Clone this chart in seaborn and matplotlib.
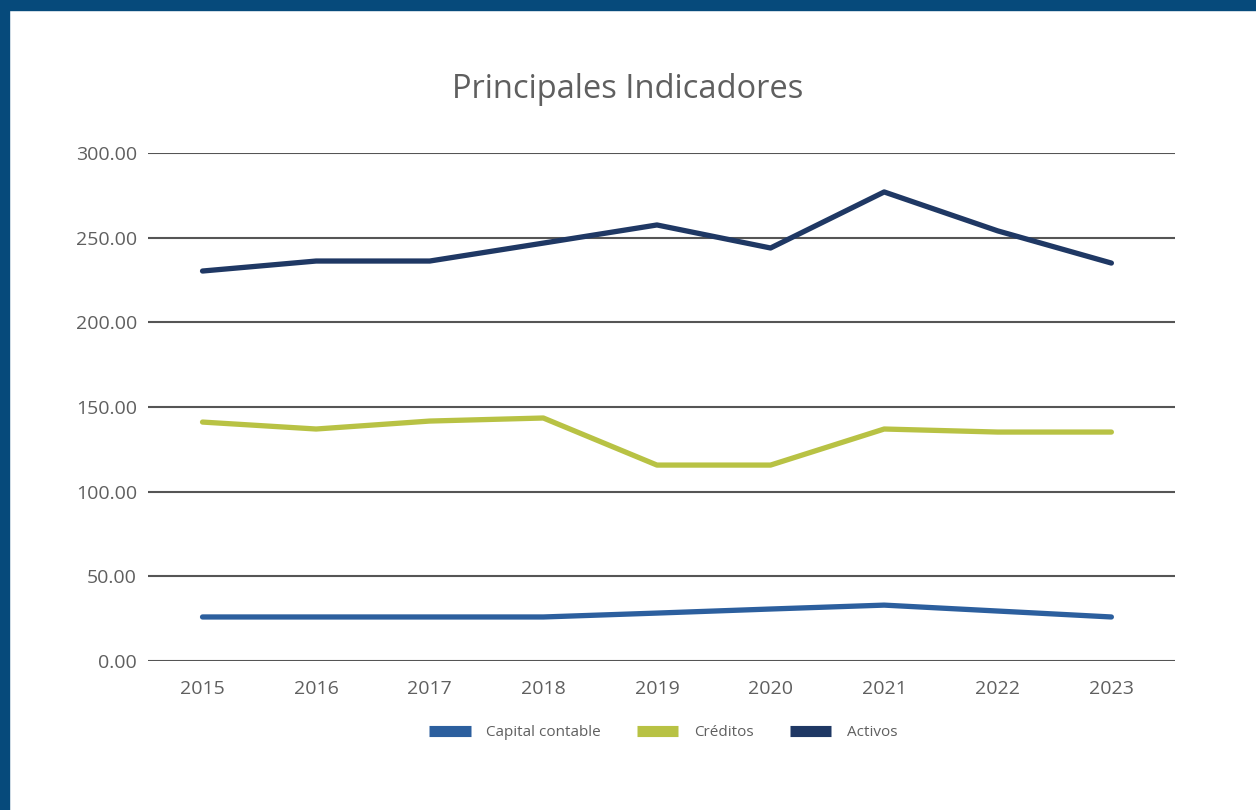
import pandas as pd
import matplotlib.pyplot as plt
import seaborn as sns
from matplotlib.lines import Line2D
from matplotlib.patches import Rectangle

years = ["2015", "2016", "2017", "2018", "2019", "2020", "2021", "2022", "2023"]
capital = [26.0, 26.0, 26.0, 26.0, 28.3, 30.7, 33.0, 29.5, 26.0]
creditos = [141.1, 137.0, 141.7, 143.5, 115.7, 115.7, 137.0, 135.2, 135.2]
activos = [230.3, 236.2, 236.2, 246.8, 257.5, 243.9, 277.0, 254.0, 235.0]
series_names = ["Capital contable", "Créditos", "Activos"]
colors = ["#2c5f9e", "#b8c244", "#1f3864"]

df = pd.DataFrame({"year": years * 3,
                   "value": capital + creditos + activos,
                   "serie": [n for n in series_names for _ in years]})

sns.set_style("white")
plt.rcParams["font.family"] = ["Open Sans", "DejaVu Sans"]
text_color = "#5f5f5f"

fig = plt.figure(figsize=(12.56, 8.10), dpi=100)
# dark frame at top and left edges
fig.patches.append(Rectangle((0, 1 - 10 / 810), 1, 10 / 810, transform=fig.transFigure,
                             color="#064a7b", zorder=0))
fig.patches.append(Rectangle((0, 0), 9 / 1256, 1, transform=fig.transFigure,
                             color="#064a7b", zorder=0))

ax = fig.add_axes([148 / 1256, 1 - 661 / 810, (1175 - 148) / 1256, (661 - 153) / 810])
sns.lineplot(data=df, x="year", y="value", hue="serie", palette=colors,
             linewidth=3.8, ax=ax, legend=False, sort=False)

ax.set_ylim(0, 300)
ax.set_xlim(-0.48, 8.56)
ax.set_yticks(range(0, 301, 50))
ax.set_yticklabels([f"{v:.2f}" for v in range(0, 301, 50)])
for v in range(0, 301, 50):
    ax.axhline(v, color="#555555", linewidth=1.5, zorder=0)
for s in ax.spines.values():
    s.set_visible(False)
ax.tick_params(axis="y", length=0, pad=8, labelsize=14, labelcolor=text_color)
ax.tick_params(axis="x", length=0, pad=14, labelsize=14, labelcolor=text_color)
ax.set_xlabel("")
ax.set_ylabel("")

fig.text(0.5, 1 - 89 / 810, "Principales Indicadores", ha="center", va="center",
         fontsize=23.5, color=text_color)

handles = [Line2D([0], [0], color=c, linewidth=8, solid_capstyle="butt") for c in colors]
fig.legend(handles, series_names, loc="center", bbox_to_anchor=(0.528, 1 - 733 / 810),
           ncol=3, frameon=False, fontsize=11, labelcolor=text_color,
           handlelength=2.7, columnspacing=2.4, handletextpad=1.0)

fig.savefig("out.png", dpi=100, facecolor="white")
